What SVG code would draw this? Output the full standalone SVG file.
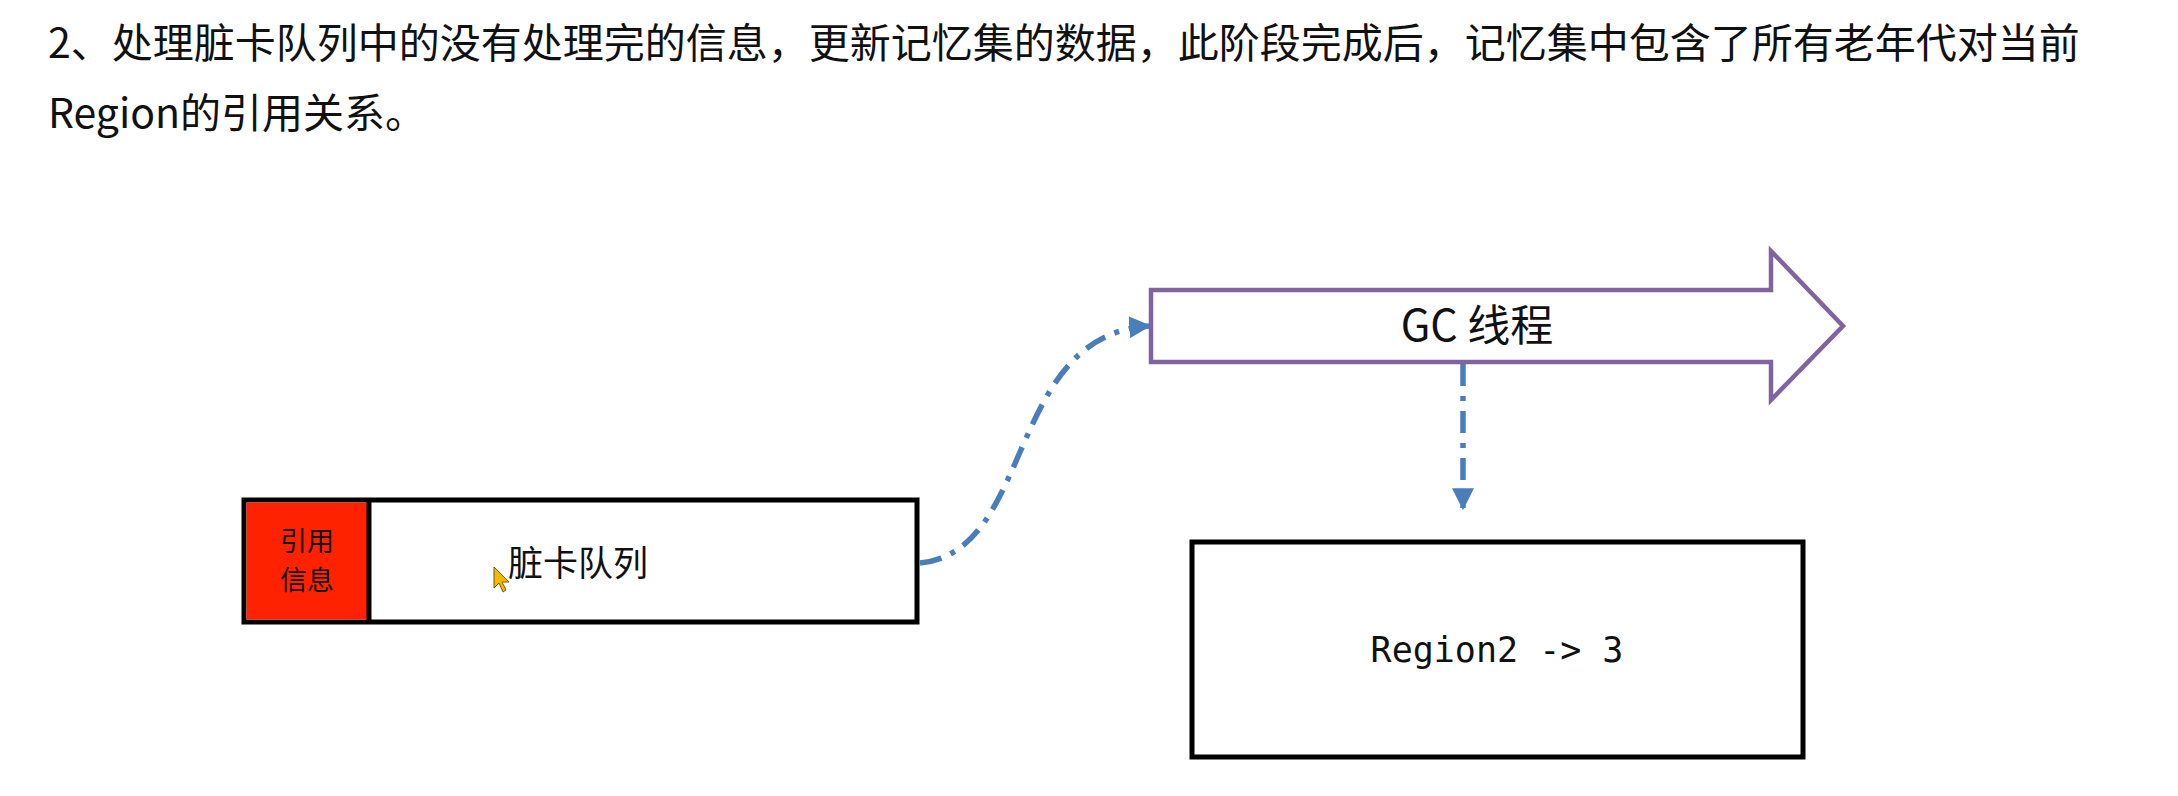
<svg xmlns="http://www.w3.org/2000/svg" width="2178" height="796" viewBox="0 0 2178 796">
<style>
.title{font-family:"Noto Sans CJK SC","Noto Sans",sans-serif;font-size:41px;fill:#111}
.box{fill:#fff;stroke:#000;stroke-width:5}
.conn{fill:none;stroke:#4a7ebb;stroke-width:5.5;stroke-dasharray:22 10 5 10}
.cjk{font-family:"Noto Sans CJK SC","Noto Sans",sans-serif;fill:#111}
</style>
<defs>
<marker id="ah" viewBox="0 0 10 10" refX="9" refY="5" markerWidth="4" markerHeight="4" orient="auto" markerUnits="strokeWidth">
<path d="M0,0 L10,5 L0,10 z" fill="#4a7ebb"/>
</marker>
</defs>
<rect width="2178" height="796" fill="#fff"/>
<g id="heading">
<text class="title" x="48" y="58">2、处理脏卡队列中的没有处理完的信息，更新记忆集的数据，此阶段完成后，记忆集中包含了所有老年代对当前</text>
<text class="title" x="48" y="128">Region的引用关系。</text>
</g>
<g id="connectors">
<path class="conn" d="M920 563 C1035 552 1005 335 1149 326" marker-end="url(#ah)"/>
<path class="conn" d="M1463 364 L1463 508" marker-end="url(#ah)"/>
</g>
<g id="gc-thread">
<path d="M1151 290 L1771 290 L1771 251 L1843 326 L1771 400 L1771 362 L1151 362 Z" fill="#fff" stroke="#8064a2" stroke-width="4.5"/>
<text class="cjk" x="1477" y="341" font-size="43" text-anchor="middle">GC 线程</text>
</g>
<g id="dirty-card-queue">
<rect class="box" x="244" y="500" width="673" height="122"/>
<rect x="246.5" y="502.5" width="122" height="117" fill="#ff2200"/>
<line x1="369" y1="500" x2="369" y2="622" stroke="#000" stroke-width="5"/>
<text class="cjk" x="307" y="551" font-size="27" text-anchor="middle" fill="#300">引用</text>
<text class="cjk" x="307" y="590" font-size="27" text-anchor="middle" fill="#300">信息</text>
<text class="cjk" x="508" y="576" font-size="35">脏卡队列</text>
<path d="M494 567 L494 588 L499 583 L503 592 L506 590 L502 582 L509 582 Z" fill="#f5b800" stroke="#7a5a00" stroke-width="1"/>
</g>
<g id="region-box">
<rect class="box" x="1192" y="542" width="611" height="215"/>
<text x="1497" y="662" font-family="'DejaVu Sans Mono','Liberation Mono',monospace" font-size="35" text-anchor="middle" fill="#111">Region2 -&gt; 3</text>
</g>
</svg>
